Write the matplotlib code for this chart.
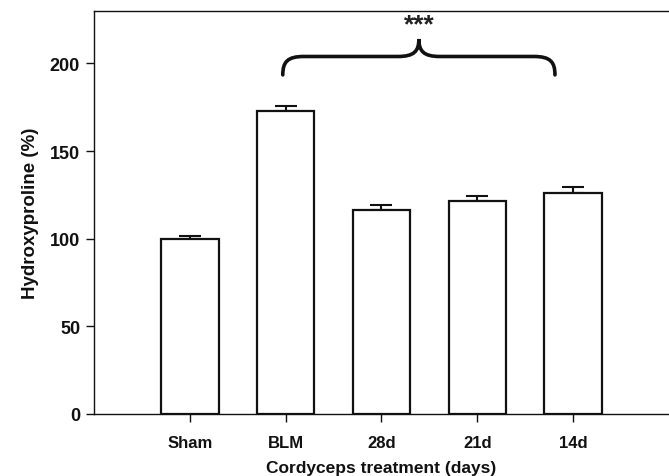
import matplotlib
matplotlib.use("Agg")
import matplotlib.pyplot as plt
from matplotlib.path import Path
from matplotlib.patches import PathPatch

plt.rcParams['font.family'] = ['Liberation Sans', 'DejaVu Sans']
plt.rcParams['font.weight'] = 'bold'

# data
groups = ['Sham', 'BLM', '28d', '21d', '14d']
hyp_mean = [100, 172.7, 116.5, 121.3, 126.3]
hyp_sem = [1.6, 3.0, 2.7, 3.0, 3.0]

fig = plt.figure(figsize=(6.69, 4.77), dpi=100)
ax = fig.add_axes([0.1405, 0.13, 0.8595, 0.845])

xpos = list(range(1, len(groups) + 1))
ax.bar(xpos, hyp_mean, width=0.6, color='white', edgecolor='#111111', linewidth=1.6, zorder=2)
ax.errorbar(xpos, hyp_mean, yerr=[[0] * len(hyp_sem), hyp_sem], fmt='none',
            ecolor='#111111', elinewidth=1.5, capsize=8, capthick=1.5, zorder=1)

# curly brace over BLM .. 14d
x0, x1, xm = 1.97, 4.81, 3.39
yb, yh, yc = 193.5, 204, 214
r = 0.22
verts = [(x0, yb), (x0, yh - 3), (x0 + 0.05, yh), (x0 + r, yh),
         (xm - r, yh), (xm - 0.05, yh), (xm, yh + 3), (xm, yc),
         (xm, yh + 3), (xm + 0.05, yh), (xm + r, yh),
         (x1 - r, yh), (x1 - 0.05, yh), (x1, yh - 3), (x1, yb)]
codes = [Path.MOVETO, Path.CURVE4, Path.CURVE4, Path.CURVE4,
         Path.LINETO, Path.CURVE4, Path.CURVE4, Path.CURVE4,
         Path.CURVE4, Path.CURVE4, Path.CURVE4,
         Path.LINETO, Path.CURVE4, Path.CURVE4, Path.CURVE4]
ax.add_patch(PathPatch(Path(verts, codes), facecolor='none', edgecolor='#111111',
                       linewidth=2.6, capstyle='round'))
ax.text(xm, 215.5, '***', ha='center', va='bottom', fontsize=19, fontweight='bold', color='#222222')

ax.set_xlim(0, 6)
ax.set_ylim(0, 230)
ax.set_xticks(xpos)
ax.set_xticklabels(groups)
ax.set_yticks([0, 50, 100, 150, 200])
ax.tick_params(axis='x', direction='out', length=6, width=1, labelsize=12, colors='#111111', pad=9)
ax.tick_params(axis='y', direction='out', length=6, width=1, labelsize=13, colors='#111111', pad=4)

for s in ['left', 'bottom', 'top']:
    ax.spines[s].set_linewidth(1.0)
    ax.spines[s].set_color('#111111')
ax.spines['right'].set_visible(False)

ax.set_ylabel('Hydroxyproline (%)', fontsize=13.5, fontweight='bold', color='#111111', labelpad=8)
ax.set_xlabel('Cordyceps treatment (days)', fontsize=12.5, fontweight='bold', color='#111111', labelpad=7)

fig.savefig('out.png', dpi=100)
